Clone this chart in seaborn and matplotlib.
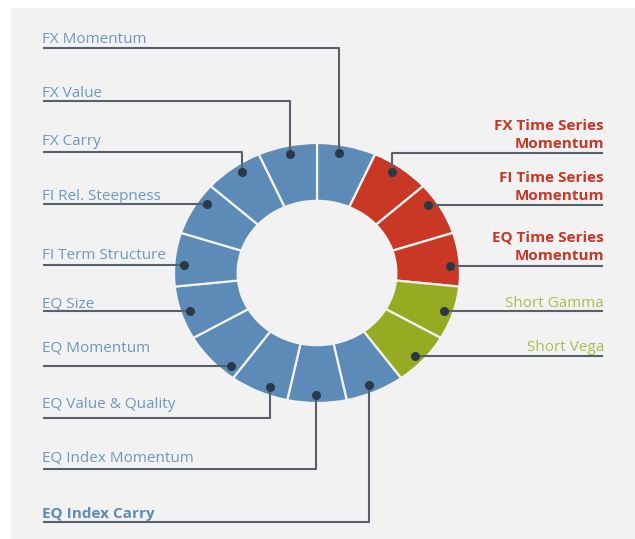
import numpy as np
import matplotlib
matplotlib.use("Agg")
import matplotlib.pyplot as plt
import seaborn as sns

sns.set_theme(style="white")
plt.rcParams['font.family'] = ['Open Sans', 'DejaVu Sans']

# ---- data (clockwise from 12 o'clock) ----
categories = ["FX Momentum", "FX Time Series\nMomentum", "FI Time Series\nMomentum",
              "EQ Time Series\nMomentum", "Short Gamma", "Short Vega",
              "EQ Index Carry", "EQ Index Momentum", "EQ Value & Quality",
              "EQ Momentum", "EQ Size", "FI Term Structure", "FI Rel. Steepness",
              "FX Carry", "FX Value"]
weights = [1, 1, 1, 1, 1, 1, 1, 1, 1, 1, 1, 1, 1, 1, 1]
groups = ["core", "trend", "trend", "trend", "vol", "vol",
          "core", "core", "core", "core", "core", "core", "core", "core", "core"]

seg_colors = {"core": "#5b8bb6", "trend": "#c93725", "vol": "#97ab22"}
txt_colors = {"core": "#6b98c3", "trend": "#c93725", "vol": "#a6be4e"}
bold_labels = {"FX Time Series\nMomentum", "FI Time Series\nMomentum",
               "EQ Time Series\nMomentum", "EQ Index Carry"}

# ---- layout (pixels) ----
W, H = 635, 539
CX, CY, RX, RY = 317, 273, 143, 130
HOLE = 0.555
RDOT = 0.935
LEFT_X, RIGHT_X = 43, 603

# label: (side, text baseline y, underline y, kind, elbow x)
layout = {
    "FX Momentum": ("L", 43, 48, "v", 339),
    "FX Value": ("L", 97, 101, "v", 290),
    "FX Carry": ("L", 145, 152, "v", 242),
    "FI Rel. Steepness": ("L", 200, 204, "h", None),
    "FI Term Structure": ("L", 259, 265, "h", None),
    "EQ Size": ("L", 307, 311, "h", None),
    "EQ Momentum": ("L", 351, 366, "h", None),
    "EQ Value & Quality": ("L", 408, 418, "v", 270),
    "EQ Index Momentum": ("L", 461, 469, "v", 316),
    "EQ Index Carry": ("L", 518, 522, "v", 369),
    "FX Time Series\nMomentum": ("R", 148, 153, "v", 392),
    "FI Time Series\nMomentum": ("R", 200, 205, "h", None),
    "EQ Time Series\nMomentum": ("R", 260, 266, "h", None),
    "Short Gamma": ("R", 307, 311, "h", None),
    "Short Vega": ("R", 351, 356, "h", None),
}

fig = plt.figure(figsize=(W / 100, H / 100), dpi=100)
fig.patch.set_facecolor("white")

# background axes
bg = fig.add_axes([0, 0, 1, 1])
bg.set_xlim(0, W); bg.set_ylim(H, 0); bg.axis("off")
bg.add_patch(plt.Rectangle((11, 8), W - 11, H - 8, color="#f2f2f2", lw=0))

# donut axes
pax = fig.add_axes([(CX - RX) / W, 1 - (CY + RY) / H, 2 * RX / W, 2 * RY / H])
pax.patch.set_alpha(0)
pax.pie(weights, colors=[seg_colors[g] for g in groups], startangle=90,
        counterclock=False, radius=1.0,
        wedgeprops=dict(width=1 - HOLE, edgecolor="#f2f2f2", linewidth=1.6))
pax.set_aspect("auto")
pax.set_xlim(-1, 1); pax.set_ylim(-1, 1)
pax.axis("off")

# overlay axes for leaders and labels
ov = fig.add_axes([0, 0, 1, 1])
ov.set_xlim(0, W); ov.set_ylim(H, 0); ov.axis("off")
ov.patch.set_alpha(0)

line_c = "#56616c"
dot_c = "#2b3947"

for cat, grp in zip(categories, groups):
    side, base_y, uy, kind, vx = layout[cat]
    if kind == "h":
        dy = (CY - uy) / RY
        dxn = np.sqrt(max(RDOT ** 2 - dy ** 2, 0))
        px = CX - RX * dxn if side == "L" else CX + RX * dxn
        py = uy
        xs = [LEFT_X, px] if side == "L" else [RIGHT_X, px]
        ys = [uy, uy]
    else:
        dxv = (vx - CX) / RX
        dyn = np.sqrt(max(RDOT ** 2 - dxv ** 2, 0))
        py = CY - RY * dyn if uy < CY else CY + RY * dyn
        px = vx
        x0 = LEFT_X if side == "L" else RIGHT_X
        xs = [x0, vx, vx]
        ys = [uy, uy, py]
    ov.plot(xs, ys, color=line_c, lw=1.5, solid_capstyle="butt", zorder=3)
    ov.plot([px], [py], "o", color=dot_c, ms=5.5, zorder=4)
    tx = LEFT_X - 1 if side == "L" else RIGHT_X + 1
    ha = "left" if side == "L" else "right"
    bold = cat in bold_labels
    col = txt_colors[grp]
    if cat == "EQ Index Carry":
        col = "#5b8bb6"
    lines = cat.split("\n")
    n = len(lines)
    for k, ln in enumerate(lines):
        ov.text(tx, base_y - (n - 1 - k) * 18.5, ln, ha=ha, va="baseline",
                fontsize=11, color=col,
                fontweight="bold" if bold else "normal", zorder=5)

fig.savefig("out.png", dpi=100, facecolor="white")
